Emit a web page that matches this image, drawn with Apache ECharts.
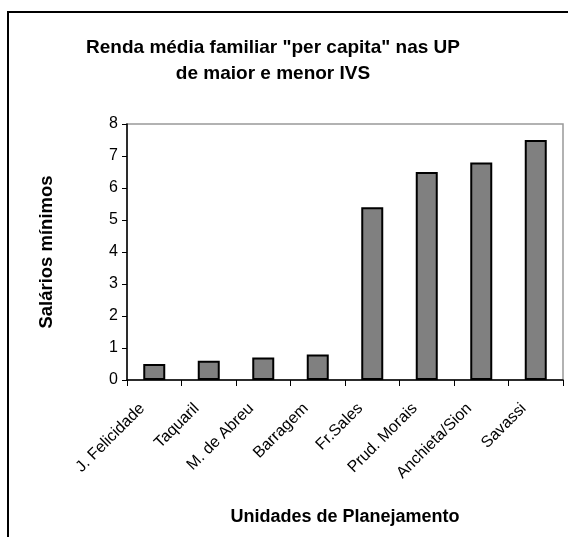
<!DOCTYPE html>
<html>
<head>
<meta charset="utf-8">
<script src="https://cdn.jsdelivr.net/npm/echarts@6/dist/echarts.min.js"></script>
<style>
  html, body { margin: 0; padding: 0; background: #fff; }
  #chart { width: 568px; height: 537px; }
</style>
</head>
<body>
<div id="chart"></div>
<script>
// Unidades de Planejamento (UP) e renda média familiar per capita em salários mínimos
const categories = ['J. Felicidade', 'Taquaril', 'M. de Abreu', 'Barragem', 'Fr.Sales', 'Prud. Morais', 'Anchieta/Sion', 'Savassi'];
const renda = [0.5, 0.6, 0.7, 0.8, 5.4, 6.5, 6.8, 7.5];
const yTicks = [0, 1, 2, 3, 4, 5, 6, 7, 8];

const font = 'Liberation Sans, Arial, sans-serif';
const chart = echarts.init(document.getElementById('chart'), null, { renderer: 'canvas' });

chart.setOption({
  animation: false,
  backgroundColor: '#ffffff',
  title: {
    text: 'Renda média familiar "per capita" nas UP\nde maior e menor IVS',
    left: 268,
    top: 30,
    textAlign: 'center',
    textStyle: { fontFamily: font, fontSize: 19, fontWeight: 'bold', color: '#000', lineHeight: 26 }
  },
  graphic: [{
    type: 'rect',
    shape: { x: 8, y: 12, width: 600, height: 600 },
    style: { fill: 'none', stroke: '#000', lineWidth: 2 },
    silent: true,
    z: -10
  }],
  grid: {
    left: 127, right: 5, top: 124, bottom: 157,
    show: true, borderColor: '#999999', borderWidth: 1.5, backgroundColor: 'transparent'
  },
  xAxis: {
    type: 'category',
    data: categories,
    name: 'Unidades de Planejamento',
    nameLocation: 'middle',
    nameGap: 128,
    nameTextStyle: { fontFamily: font, fontSize: 18, fontWeight: 'bold', color: '#000' },
    axisLine: { lineStyle: { color: '#000', width: 1.5 } },
    axisTick: { show: true, length: 6, lineStyle: { color: '#000', width: 1 } },
    axisLabel: { rotate: 45, margin: 14, padding: [0, 17, 0, 0], fontFamily: font, fontSize: 16, color: '#000', interval: 0 }
  },
  yAxis: {
    type: 'value',
    min: yTicks[0],
    max: yTicks[yTicks.length - 1],
    interval: 1,
    name: 'Salários mínimos',
    nameLocation: 'middle',
    nameGap: 71,
    nameRotate: 90,
    nameTextStyle: { fontFamily: font, fontSize: 18.5, fontWeight: 'bold', color: '#000' },
    axisLine: { show: true, lineStyle: { color: '#000', width: 1.5 } },
    axisTick: { show: true, length: 5, lineStyle: { color: '#000', width: 1 } },
    splitLine: { show: false },
    axisLabel: { margin: 9, fontFamily: font, fontSize: 16, color: '#000' }
  },
  series: [{
    type: 'bar',
    data: renda,
    barWidth: 22,
    itemStyle: { color: '#808080', borderColor: '#000', borderWidth: 2 }
  }]
});
</script>
</body>
</html>
